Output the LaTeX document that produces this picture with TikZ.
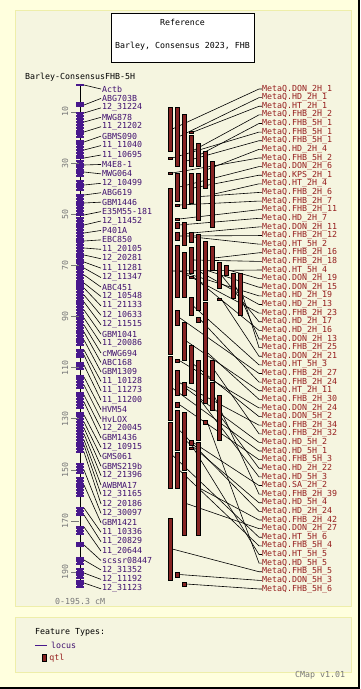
\documentclass[tikz,border=0pt]{standalone}
\usepackage{fontspec}
\newfontfamily\cmapfont{DejaVu Sans Mono}
\usetikzlibrary{positioning}

\definecolor{pagebg}{RGB}{255,255,222}
\definecolor{panelbg}{RGB}{245,245,224}
\definecolor{panelline}{RGB}{238,238,170}
\definecolor{locuscol}{RGB}{72,24,140}
\definecolor{locustext}{RGB}{64,16,112}
\definecolor{qtlcol}{RGB}{135,35,35}
\definecolor{qtltext}{RGB}{150,30,30}
\definecolor{scalegray}{RGB}{120,120,120}

\pgfdeclarelayer{back}
\pgfdeclarelayer{lines}
\pgfsetlayers{back,lines,main}

\begin{document}
\begin{tikzpicture}[
    x=1pt, y=-1pt,
    font=\cmapfont\fontsize{8.3}{10}\selectfont,
    mlabel/.style={anchor=west, inner sep=0pt, text=locustext},
    qlabel/.style={anchor=west, inner sep=0pt, text=qtltext},
    qtlbar/.style={rectangle, draw=black, fill=qtlcol, line width=0.5pt, minimum width=4pt, inner sep=0pt},
    link/.style={black, line width=0.6pt}
]
  \useasboundingbox (0,0) rectangle (360,689);

  % ==================== PARAMETERS ====================
  \def\xchr{80}      % chromosome axis
  \def\ytop{85}      % 0 cM
  \def\ybot{586}     % 195.3 cM
  \def\xm{102}       % marker labels
  \def\xq{262}       % qtl labels

  % ==================== 1. PANELS ====================
  \begin{pgfonlayer}{back}
    \fill[pagebg] (0,0) rectangle (360,689);
    \fill[black] (357.5,0) rectangle (360,689);
    \fill[black] (0,686.5) rectangle (360,689);
    \filldraw[fill=panelbg, draw=panelline] (15,10) rectangle (351,606);
    \filldraw[fill=panelbg, draw=panelline] (15,617) rectangle (351,672);
  \end{pgfonlayer}

  % title box
  \filldraw[fill=white, draw=black, line width=0.8pt] (111,13) rectangle (254,62);
  \node[inner sep=0pt] (ttl) at (182.5,22) {Reference};
  \node[inner sep=0pt] (set) at (182.5,46) {Barley, Consensus 2023, FHB};

  \node[anchor=west, inner sep=0pt] (mapname) at (25,77) {Barley-ConsensusFHB-5H};
  \node[anchor=west, inner sep=0pt, text=scalegray] (range) at (55,601) {0-195.3 cM};

  % ==================== 2. CHROMOSOME ====================
  \draw[black, line width=1pt] (\xchr,\ytop) -- (\xchr,\ybot);
  \draw[black, line width=1pt] (\xchr-2,\ytop) -- (\xchr+2,\ytop);
  \draw[black, line width=1pt] (\xchr-2,\ybot) -- (\xchr+2,\ybot);

  % dense loci
  \foreach \a/\b in {102/107, 112/137, 140/157, 160/177, 180/190, 195/213, 217/283,
                     285/300, 303/330, 332/345, 350/357, 362/370, 375/387, 392/407,
                     412/453, 463/473, 477/495, 507/513, 527/535, 542/547, 557/565,
                     568/577, 580/586}{
    \fill[locuscol] (\xchr-3,\a) rectangle (\xchr+3,\b);
    \pgfmathtruncatemacro\n{(\b-\a)/3}
    \foreach \j in {0,...,\n}
      \fill[locuscol] (\xchr-4,\a+3*\j) rectangle (\xchr+4,\a+3*\j+2);
  }

  % scale
  \foreach \v in {10,30,...,190}{
    \pgfmathsetmacro\yy{86.4+2.556*\v}
    \draw[scalegray, line width=0.6pt] (\xchr-9,\yy) -- (\xchr-1,\yy);
    \node[rotate=90, inner sep=0pt, text=scalegray] (s\v) at (65,\yy) {\v};
  }

  % ==================== 3. MARKERS ====================
  \foreach \ly/\name [count=\i] in {85/Actb, 105/ABG703B, 113/12\_31224, 122/MWG878,
      132/11\_21202, 142/GBMS090, 150/11\_11040, 158/11\_10695, 165/M4E8-1, 172/MWG064,
      185/12\_10499, 195/ABG619, 203/GBM1446, 215/E35M55-181, 225/12\_11452, 233/P401A,
      241/EBC850, 248/11\_20105, 255/12\_20281, 262/11\_11281, 268/12\_11347, 275/ABC451,
      283/12\_10548, 288/11\_21133, 295/12\_10633, 302/12\_11515, 310/GBM1041,
      318/11\_20086, 325/cMWG694, 332/ABC168, 340/GBM1309, 350/11\_10128, 355/11\_11273,
      365/11\_11200, 377/HVM54, 385/HvLOX, 395/12\_20045, 402/GBM1436, 415/12\_10915,
      422/GMS061, 428/GBMS219b, 434/12\_21396, 440/AWBMA17, 445/12\_31165, 452/12\_20186,
      470/12\_30097, 485/GBM1421, 508/11\_10336, 515/11\_20829, 527/11\_20644,
      545/scssr08447, 560/12\_31352, 573/12\_11192, 583/12\_31123}{
    \fill[locuscol] (\xchr-4,\ly-1) rectangle (\xchr+4,\ly+1);
    \coordinate (l\i) at (\xchr+4,\ly);
    \node[mlabel] (m\i) at (\xm,{89+9.43*(\i-1)}) {\name};
    \draw[link] (l\i) -- ([xshift=-1pt]m\i.west);
  }

  % ==================== 4. QTL ====================
  \foreach \c/\t/\b/\name [count=\k] in {
      1/107/151/DON\_2H\_1,  2/107/166/HD\_2H\_1,   4/131/133/HT\_2H\_1,   4/135/166/FHB\_2H\_2,
      5/143/166/FHB\_5H\_1,  1/157/159/FHB\_5H\_1,  3/114/208/FHB\_5H\_1,  6/151/188/HD\_2H\_4,
      1/172/174/FHB\_5H\_2,  2/173/201/DON\_2H\_6,  4/173/203/KPS\_2H\_1,  7/161/227/HT\_2H\_4,
      5/173/220/FHB\_2H\_6,  2/204/206/FHB\_2H\_7,  2/218/220/FHB\_2H\_11, 2/222/228/HD\_2H\_7,
      3/222/245/DON\_2H\_11, 2/232/240/FHB\_2H\_12, 4/232/242/HT\_5H\_2,   7/246/270/FHB\_2H\_16,
      4/247/273/FHB\_2H\_18, 1/188/354/HT\_5H\_4,   9/265/275/DON\_2H\_19, 6/241/300/DON\_2H\_15,
      2/245/297/HD\_2H\_19,  5/234/310/HD\_2H\_13,  3/252/297/FHB\_2H\_23, 8/262/288/HD\_2H\_17,
      4/276/278/HD\_2H\_16,  10/273/298/DON\_2H\_13, 11/273/315/FHB\_2H\_25, 8/298/300/DON\_2H\_21,
      4/297/315/HT\_5H\_3,   2/310/325/FHB\_2H\_27, 5/317/322/FHB\_2H\_24, 3/322/360/HT\_2H\_11,
      6/302/403/FHB\_2H\_30, 2/359/362/DON\_2H\_24, 4/345/383/DON\_5H\_2,  2/370/395/FHB\_2H\_34,
      7/360/380/FHB\_2H\_32, 3/382/395/HD\_5H\_2,   1/356/420/HD\_5H\_1,   2/402/407/FHB\_5H\_3,
      8/395/440/HD\_2H\_22,  5/360/440/HD\_5H\_3,   4/440/445/SA\_2H\_2,   7/382/410/FHB\_2H\_39,
      3/412/470/HD\_5H\_4,   2/410/450/HD\_2H\_24,  5/442/535/FHB\_2H\_42, 3/472/535/DON\_2H\_27,
      1/422/488/HT\_5H\_6,   2/452/488/FHB\_5H\_4,  4/447/449/HT\_5H\_5,   6/420/424/HD\_5H\_5,
      1/518/580/FHB\_5H\_5,  2/572/577/DON\_5H\_3,  3/582/586/FHB\_5H\_6}{
    \pgfmathsetmacro\hh{\b-\t}
    \node[qlabel] (q\k) at (\xq,{89+8.62*(\k-1)}) {MetaQ.\name};
    \node[qtlbar, minimum height=\hh pt] (b\k) at ({163+7*\c},{(\t+\b)/2}) {};
    \begin{pgfonlayer}{lines}
      \draw[link] (b\k.east) -- ([xshift=-3pt]q\k.west) -- (q\k.west);
    \end{pgfonlayer}
  }

  % ==================== 5. LEGEND ====================
  \node[anchor=west, inner sep=0pt] (ftypes) at (35,632) {Feature Types:};
  \draw[locuscol, line width=1pt] (35,645) -- (47,645);
  \node[mlabel] (lgloc) at (51,645) {locus};
  \node[qtlbar, minimum height=7pt] (lgbar) at (44,658) {};
  \node[qlabel, right=3pt of lgbar] (lgqtl) {qtl};
  \node[anchor=west, inner sep=0pt, text=scalegray] (ver) at (295,675) {CMap v1.01};

\end{tikzpicture}
\end{document}
